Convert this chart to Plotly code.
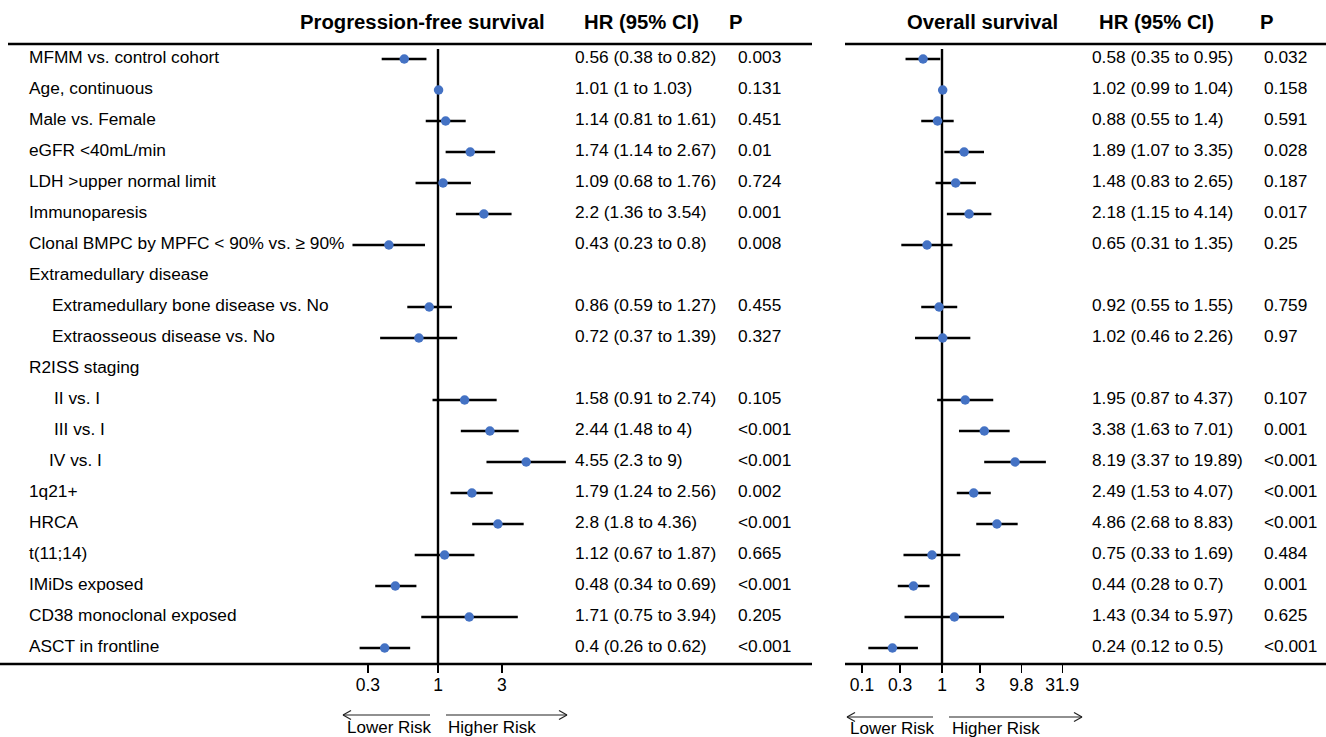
import plotly.graph_objects as go

# ---------------- data ----------------
labels = [
    "MFMM vs. control cohort", "Age, continuous", "Male vs. Female", "eGFR <40mL/min",
    "LDH >upper normal limit", "Immunoparesis", "Clonal BMPC by MPFC < 90% vs. \u2265 90%",
    "Extramedullary disease", "Extramedullary bone disease vs. No", "Extraosseous disease vs. No",
    "R2ISS staging", "II vs. I", "III vs. I", "IV vs. I", "1q21+", "HRCA", "t(11;14)",
    "IMiDs exposed", "CD38 monoclonal exposed", "ASCT in frontline",
]

pfs_hr = [0.56, 1.01, 1.14, 1.74, 1.09, 2.2, 0.43, None, 0.86, 0.72, None, 1.58, 2.44, 4.55, 1.79, 2.8, 1.12, 0.48, 1.71, 0.4]
pfs_lo = [0.38, 1, 0.81, 1.14, 0.68, 1.36, 0.23, None, 0.59, 0.37, None, 0.91, 1.48, 2.3, 1.24, 1.8, 0.67, 0.34, 0.75, 0.26]
pfs_hi = [0.82, 1.03, 1.61, 2.67, 1.76, 3.54, 0.8, None, 1.27, 1.39, None, 2.74, 4, 9, 2.56, 4.36, 1.87, 0.69, 3.94, 0.62]
pfs_p = ["0.003", "0.131", "0.451", "0.01", "0.724", "0.001", "0.008", "", "0.455", "0.327", "",
         "0.105", "<0.001", "<0.001", "0.002", "<0.001", "0.665", "<0.001", "0.205", "<0.001"]

os_hr = [0.58, 1.02, 0.88, 1.89, 1.48, 2.18, 0.65, None, 0.92, 1.02, None, 1.95, 3.38, 8.19, 2.49, 4.86, 0.75, 0.44, 1.43, 0.24]
os_lo = [0.35, 0.99, 0.55, 1.07, 0.83, 1.15, 0.31, None, 0.55, 0.46, None, 0.87, 1.63, 3.37, 1.53, 2.68, 0.33, 0.28, 0.34, 0.12]
os_hi = [0.95, 1.04, 1.4, 3.35, 2.65, 4.14, 1.35, None, 1.55, 2.26, None, 4.37, 7.01, 19.89, 4.07, 8.83, 1.69, 0.7, 5.97, 0.5]
os_p = ["0.032", "0.158", "0.591", "0.028", "0.187", "0.017", "0.25", "", "0.759", "0.97", "",
        "0.107", "0.001", "<0.001", "<0.001", "<0.001", "0.484", "0.001", "0.625", "<0.001"]

pfs_ticks = [0.3, 1, 3]
pfs_ticktext = ["0.3", "1", "3"]
os_ticks = [0.1, 0.3, 1, 3, 9.8, 31.9]
os_ticktext = ["0.1", "0.3", "1", "3", "9.8", "31.9"]

# ---------------- layout helpers ----------------
W, H = 1326, 737
FONT = "Liberation Sans, Arial, Helvetica, sans-serif"
BLUE = "#4472C4"
BODY = 17.3
indent = {8: 23, 9: 23, 11: 25, 12: 25, 13: 20}


def px(x):
    return x / W


def py(y):
    return 1 - y / H


rows = list(range(len(labels)))


def fmt(v):
    return f"{v:g}"


def hr_text(h, l, u):
    return "" if h is None else f"{fmt(h)} ({fmt(l)} to {fmt(u)})"


def clean(vals, idx):
    return [vals[i] for i in idx]


fig = go.Figure()

for hr, lo, hi, xa, ya in [(pfs_hr, pfs_lo, pfs_hi, "x", "y"), (os_hr, os_lo, os_hi, "x2", "y2")]:
    idx = [i for i in rows if hr[i] is not None]
    h = clean(hr, idx)
    l = clean(lo, idx)
    u = clean(hi, idx)
    fig.add_trace(go.Scatter(
        x=h, y=idx, mode="markers", xaxis=xa, yaxis=ya,
        marker=dict(color=BLUE, size=9.5),
        error_x=dict(type="data", symmetric=False,
                     array=[b - a for a, b in zip(h, u)],
                     arrayminus=[a - b for a, b in zip(h, l)],
                     color="black", thickness=2.4, width=0),
        showlegend=False, hoverinfo="skip",
    ))

# axes: row i at pixel y = 59 + 31 i ; axis line at pixel 664
y_range = [(664 - 59) / 31, (0 - 59) / 31]
ydom = [(H - 664) / H, 1]
axis_common = dict(type="log", showgrid=False, zeroline=False, showline=False,
                   ticks="outside", ticklen=8, tickwidth=1.5, tickcolor="black",
                   ticklabelstandoff=-3,
                   tickfont=dict(family=FONT, size=17.5, color="black"), fixedrange=True)
fig.update_layout(
    xaxis=dict(domain=[px(330), px(580)], anchor="y",
               range=[(330 - 438) / 134, (580 - 438) / 134],
               tickvals=pfs_ticks, ticktext=pfs_ticktext, **axis_common),
    xaxis2=dict(domain=[px(850), px(1085)], anchor="y2",
                range=[(850 - 942) / 80, (1085 - 942) / 80],
                tickvals=os_ticks, ticktext=os_ticktext, **axis_common),
    yaxis=dict(domain=ydom, range=y_range, visible=False, fixedrange=True),
    yaxis2=dict(domain=ydom, range=y_range, visible=False, fixedrange=True, anchor="x2"),
)

shapes = []
# reference lines at HR = 1
for xr in ["x", "x2"]:
    shapes.append(dict(type="line", xref=xr, yref="paper", x0=1, x1=1, y0=py(49), y1=py(664),
                       line=dict(color="black", width=2.4), layer="below"))
# horizontal rules
for x0, x1, yy in [(8, 812, 44), (845, 1326, 44), (0, 812, 664), (845, 1326, 664)]:
    shapes.append(dict(type="line", xref="paper", yref="paper", x0=px(x0), x1=px(x1), y0=py(yy), y1=py(yy),
                       line=dict(color="black", width=2.6)))
# risk arrows
for x_tail, x_head, yy in [(430, 343, 715), (446, 567, 715), (933, 847, 717), (949, 1082, 717)]:
    shapes.append(dict(type="line", xref="paper", yref="paper", x0=px(x_tail), x1=px(x_head),
                       y0=py(yy), y1=py(yy), line=dict(color="#222", width=1.2)))
    d = 8 if x_head > x_tail else -8
    for dy in (-4.5, 4.5):
        shapes.append(dict(type="line", xref="paper", yref="paper", x0=px(x_head - d), x1=px(x_head),
                           y0=py(yy + dy), y1=py(yy), line=dict(color="#222", width=1.2)))

ann = []


def text(x, y, s, size=BODY, bold=False, anchor="left", yref="paper"):
    ann.append(dict(x=x, y=y, xref="paper", yref=yref, text=f"<b>{s}</b>" if bold else s,
                    showarrow=False, xanchor=anchor, yanchor="middle",
                    font=dict(family=FONT, size=size, color="black")))


# headers
HS = 20.3
text(px(298), py(22), "Progression-free survival", size=HS, bold=True)
text(px(582), py(22), "HR (95% CI)", size=HS, bold=True)
text(px(727), py(22), "P", size=HS, bold=True)
text(px(905), py(22), "Overall survival", size=HS, bold=True)
text(px(1097), py(22), "HR (95% CI)", size=HS, bold=True)
text(px(1258), py(22), "P", size=HS, bold=True)

for i in rows:
    yy = i - 0.06
    text(px(27 + indent.get(i, 0)), yy, labels[i], yref="y")
    text(px(573), yy, hr_text(pfs_hr[i], pfs_lo[i], pfs_hi[i]), yref="y")
    text(px(736), yy, pfs_p[i], yref="y")
    text(px(1090), yy, hr_text(os_hr[i], os_lo[i], os_hi[i]), yref="y")
    text(px(1262), yy, os_p[i], yref="y")

# risk labels
text(px(345), py(727), "Lower Risk", size=17)
text(px(446), py(727), "Higher Risk", size=17)
text(px(848), py(728), "Lower Risk", size=17)
text(px(950), py(728), "Higher Risk", size=17)

fig.update_layout(
    width=W, height=H, margin=dict(l=0, r=0, t=0, b=0),
    paper_bgcolor="white", plot_bgcolor="white",
    shapes=shapes, annotations=ann, showlegend=False,
)

fig.write_html("out.html", config={"displayModeBar": False, "staticPlot": True},
               post_script="document.body.style.margin='0';document.body.style.overflow='hidden';")
